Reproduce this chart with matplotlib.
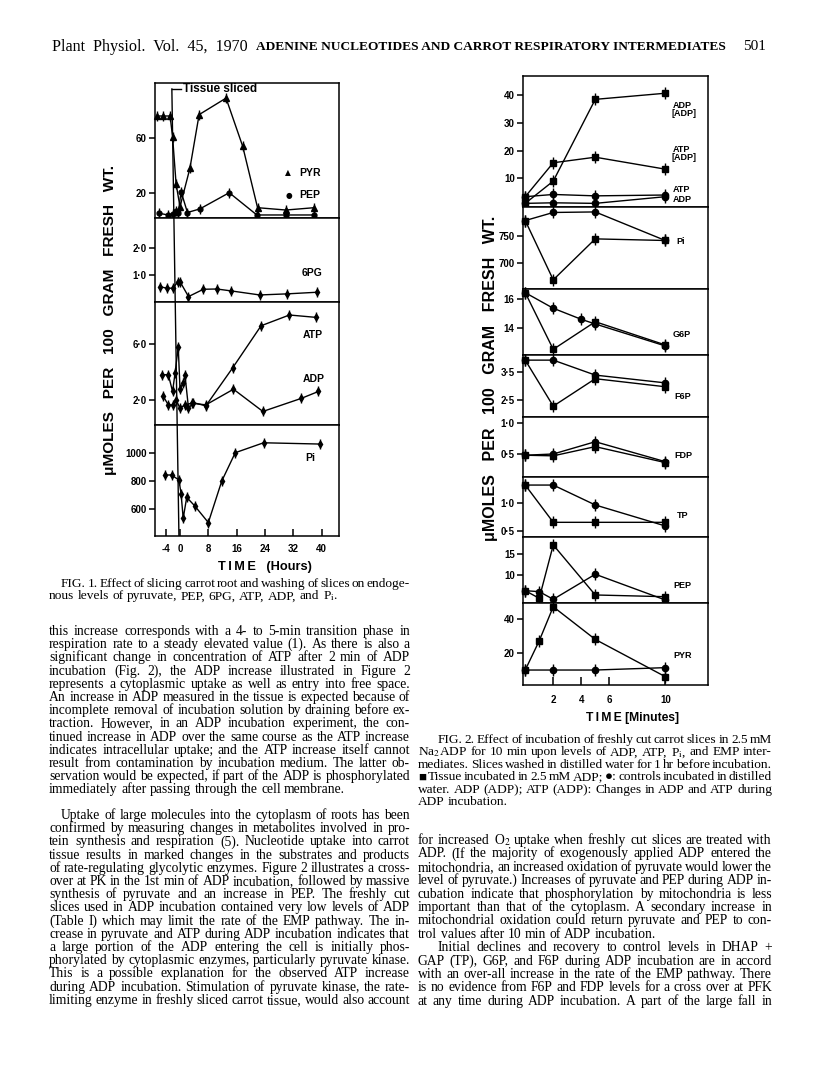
import matplotlib
matplotlib.use("Agg")
import matplotlib.pyplot as plt

W, H = 816, 1076
SANS = ["Liberation Sans", "DejaVu Sans"]
SERIF = ["Liberation Serif", "DejaVu Serif"]
plt.rcParams["font.family"] = SERIF
plt.rcParams["mathtext.fontset"] = "stix"

# ---------------- Fig. 1 data (time in hours) ----------------
pyr_t = [-6.6, -4.9, -2.8, -2.1, -1.1, 0.0, 2.8, 5.4, 13.0, 17.7, 21.9, 29.9, 37.9]
pyr_v = [76, 76, 76, 61, 26.5, 10, 38, 77, 89, 54, 9.3, 7.6, 9.3]
pep_t = [-5.8, -3.4, -2.1, -1.1, -0.5, 0.3, 2.1, 5.6, 13.9, 21.7, 29.9, 37.9]
pep_v = [5.2, 4.0, 4.5, 6.9, 5.2, 21, 5.8, 8.4, 20.2, 4.0, 4.0, 4.0]
pg6_t = [-5.7, -3.8, -2.1, -0.5, 0.0, 2.4, 6.6, 10.4, 14.4, 22.5, 30.2, 38.7]
pg6_v = [0.57, 0.51, 0.51, 0.75, 0.75, 0.20, 0.47, 0.48, 0.41, 0.26, 0.30, 0.36]
atp_t = [-5.2, -3.3, -2.1, -1.4, -0.5, 0.0, 0.9, 1.4, 2.4, 3.8, 7.3, 14.9, 22.9, 30.9, 38.4]
atp_v = [3.8, 3.8, 2.6, 3.9, 5.8, 2.8, 3.2, 3.8, 1.4, 1.8, 1.57, 4.3, 7.3, 8.07, 7.9]
adp_t = [-4.7, -3.3, -2.1, -1.1, 0.0, 1.4, 3.3, 7.3, 15.1, 23.4, 34.2, 39.1]
adp_v = [2.24, 1.64, 1.64, 2.0, 1.4, 1.64, 1.76, 1.64, 2.76, 1.17, 2.1, 2.6]
pi1_t = [-4.1, -2.4, -0.3, 0.3, 0.9, 1.9, 4.2, 8.0, 11.8, 15.6, 23.6, 39.4]
pi1_v = [843, 843, 807, 710, 534, 683, 621, 503, 800, 1002, 1073, 1064]
slice_time = 0.0

# ---------------- Fig. 2 data (time in minutes) ----------------
t4 = [0, 2, 5, 10]
t5 = [0, 1, 2, 5, 10]
adp_inc = [1.0, 9.0, 38.4, 40.6]
atp_inc = [3.4, 15.6, 17.6, 13.3]
atp_ctl = [3.4, 4.2, 3.7, 4.0]
adp_ctl = [1.0, 1.2, 1.0, 3.4]
pi_inc = [778, 668, 744, 741]
pi_ctl = [778, 793, 794, 741]
g6p_t_ctl = [0, 2, 4, 5, 10]
g6p_ctl = [16.47, 15.37, 14.59, 14.26, 12.71]
g6p_inc = [16.47, 12.47, 14.42, 12.78]
f6p_ctl = [3.94, 3.94, 3.40, 3.12]
f6p_inc = [3.94, 2.28, 3.27, 2.98]
fdp_ctl = [0.48, 0.50, 0.70, 0.375]
fdp_inc = [0.48, 0.47, 0.62, 0.36]
tp_ctl = [1.316, 1.316, 0.96, 0.585]
tp_inc = [1.316, 0.65, 0.65, 0.65]
pep_inc = [6.26, 4.45, 17.14, 5.24, 4.83]
pep_ctl = [6.26, 6.03, 4.21, 10.17, 4.05]
pyr_inc = [10.2, 27.4, 47.4, 28.2, 6.3]
pyr_ctl = [10.2, 10.2, 10.2, 11.6]

fig = plt.figure(figsize=(W / 100, H / 100), dpi=100)
fig.patch.set_facecolor("white")
R = fig.canvas.get_renderer()


def box(l, r, t, b):
    return [l / W, 1 - b / H, (r - l) / W, (b - t) / H]


def T(x, y, s, **kw):
    return fig.text(x / W, 1 - y / H, s, **kw)


def fit(x0, x1, y, s, family=SERIF, rot=0, **kw):
    t = T(x0, y, s, fontsize=10, family=family, rotation=rot, **kw)
    bb = t.get_window_extent(R)
    span = bb.height if rot else bb.width
    t.set_fontsize(10 * abs(x1 - x0) / span)
    return t


def word_widths(words, size):
    out = []
    for w in words:
        t = T(0, 0, w, fontsize=size, family=SERIF)
        out.append(t.get_window_extent(R).width)
        t.remove()
    return out


def fit_size(paras, x0, x1, indent=0, base=10.0, space=0.15):
    # largest size where every justified line fits with at least `space` em gaps
    ratios = []
    for lines, last_left in paras:
        for i, line in enumerate(lines):
            if i == len(lines) - 1 and last_left:
                continue
            words = line.split(" ")
            nat = sum(word_widths(words, base)) + (len(words) - 1) * base * 1.389 * space
            ratios.append((x1 - x0 - (indent if i == 0 else 0)) / nat)
    return base * min(ratios)


def para(lines, x0, x1, y0, dy, size, indent=0, last_left=True):
    # y0 is the centre of the first line; words sit on a common baseline
    for i, line in enumerate(lines):
        y = y0 + i * dy + 0.3 * size * 1.389
        xs = x0 + (indent if i == 0 else 0)
        words = line.split(" ")
        texts = [T(0, y, w, fontsize=size, family=SERIF, va="baseline") for w in words]
        ws = [t.get_window_extent(R).width for t in texts]
        if (i == len(lines) - 1 and last_left) or len(words) == 1:
            gap = size * 1.389 * 0.25
        else:
            gap = (x1 - xs - sum(ws)) / (len(words) - 1)
        x = xs
        for t, w in zip(texts, ws):
            t.set_x(x / W)
            x += w + gap


def style(ax, xlim, ylim, yticks, ylabels, bottom=False):
    ax.set_xlim(*xlim)
    ax.set_ylim(*ylim)
    ax.set_yticks(yticks, ylabels)
    for s in ax.spines.values():
        s.set_linewidth(1.1)
    ax.tick_params(axis="y", direction="out", length=4, width=1.1, pad=2, labelsize=7)
    if not bottom:
        ax.tick_params(axis="x", bottom=False, labelbottom=False)
    for lab in ax.get_yticklabels() + ax.get_xticklabels():
        lab.set_family(SANS)
        lab.set_fontweight("bold")


def dots(ax, x, y, marker, ms, bar=7):
    ax.plot(x, y, color="black", lw=1.0, marker=marker, ms=ms, clip_on=False)
    ax.plot(x, y, ls="none", color="black", marker="|", ms=bar, mew=1.0, clip_on=False)


# ---------------- Header ----------------
fit(52, 248, 47, "Plant  Physiol.  Vol.  45,  1970", va="center")
fit(256, 726, 47, "ADENINE NUCLEOTIDES AND CARROT RESPIRATORY INTERMEDIATES",
    va="center", fontweight="bold")
T(766, 47, "501", fontsize=11, family=SERIF, va="center", ha="right")

# ---------------- Fig. 1 ----------------
X1 = (-7.06, 44.9)
L1, R1 = 155, 339
a1 = fig.add_axes(box(L1, R1, 83, 218))
dots(a1, pyr_t, pyr_v, "^", 4)
dots(a1, pep_t, pep_v, "o", 3.5)
style(a1, X1, (1.8, 100), [20, 60], ["20", "60"])

a2 = fig.add_axes(box(L1, R1, 218, 302))
dots(a2, pg6_t, pg6_v, "d", 3.5)
style(a2, X1, (0, 3.1), [1, 2], ["1·0", "2·0"])

a3 = fig.add_axes(box(L1, R1, 302, 425))
dots(a3, atp_t, atp_v, "d", 3.5)
dots(a3, adp_t, adp_v, "d", 3.5)
style(a3, X1, (0.2, 9.0), [2, 6], ["2·0", "6·0"])

a4 = fig.add_axes(box(L1, R1, 425, 536))
dots(a4, pi1_t, pi1_v, "d", 3.5)
style(a4, X1, (407, 1200), [600, 800, 1000], ["600", "800", "1000"], bottom=True)
a4.set_xticks([-4, 0, 8, 16, 24, 32, 40], ["-4", "0", "8", "16", "24", "32", "40"])
a4.tick_params(axis="x", direction="in", length=5, width=1.1, pad=6, labelsize=7)
for lab in a4.get_xticklabels():
    lab.set_family(SANS)
    lab.set_fontweight("bold")

ov = fig.add_axes(box(L1, R1, 83, 536))
ov.set_xlim(*X1)
ov.set_ylim(536, 83)
ov.axis("off")
ov.patch.set_alpha(0)
ov.plot([slice_time - 2.3, slice_time - 0.3], [89, 536], color="black", lw=1.0)
ov.plot([slice_time - 2.3, slice_time + 0.4], [89, 89], color="black", lw=1.0)

lab_kw = dict(family=SANS, fontweight="bold", va="center")
T(183, 89, "Tissue sliced", fontsize=8.5, **lab_kw)
T(288, 173, "▲", fontsize=5.5, ha="center", family=["DejaVu Sans"], va="center")
T(289, 195, "●", fontsize=5.5, ha="center", family=["DejaVu Sans"], va="center")
T(299, 173, "PYR", fontsize=7.5, **lab_kw)
T(299, 195, "PEP", fontsize=7.5, **lab_kw)
T(302, 273, "6PG", fontsize=7.5, **lab_kw)
T(303, 335, "ATP", fontsize=7.5, **lab_kw)
T(303, 379, "ADP", fontsize=7.5, **lab_kw)
T(305, 458, "Pi", fontsize=7.5, **lab_kw)
fit(218, 312, 567, "T\u2009I\u2009M\u2009E   (Hours)", family=SANS, va="center", fontweight="bold")
ylab1 = fit(165, 475, 110, "\u03bcMOLES   PER   100   GRAM   FRESH   WT.", family=SANS, rot=90,
            va="center", ha="center", fontweight="bold")
ylab1.set_position((110 / W, 1 - 320 / H))

# ---------------- Fig. 2 ----------------
X2 = (-0.16, 13.05)
L2, R2 = 523, 708
b1 = fig.add_axes(box(L2, R2, 76, 206.7))
dots(b1, t4, adp_inc, "s", 4.5, 8)
dots(b1, t4, atp_inc, "s", 4.5, 8)
dots(b1, t4, atp_ctl, "o", 4.5, 8)
dots(b1, t4, adp_ctl, "o", 4.5, 8)
style(b1, X2, (-0.2, 46.8), [10, 20, 30, 40], ["10", "20", "30", "40"])

b2 = fig.add_axes(box(L2, R2, 206.7, 289))
dots(b2, t4, pi_ctl, "o", 4.5, 8)
dots(b2, t4, pi_inc, "s", 4.5, 8)
style(b2, X2, (651, 803.7), [700, 750], ["700", "750"])

b3 = fig.add_axes(box(L2, R2, 289, 355))
dots(b3, g6p_t_ctl, g6p_ctl, "o", 4.5, 8)
dots(b3, t4, g6p_inc, "s", 4.5, 8)
style(b3, X2, (12.07, 16.73), [14, 16], ["14", "16"])

b4 = fig.add_axes(box(L2, R2, 355, 416.7))
dots(b4, t4, f6p_ctl, "o", 4.5, 8)
dots(b4, t4, f6p_inc, "s", 4.5, 8)
style(b4, X2, (1.9, 4.125), [2.5, 3.5], ["2·5", "3·5"])

b5 = fig.add_axes(box(L2, R2, 416.7, 477))
dots(b5, t4, fdp_ctl, "o", 4.5, 8)
dots(b5, t4, fdp_inc, "s", 4.5, 8)
style(b5, X2, (0.125, 1.108), [0.5, 1.0], ["0·5", "1·0"])

b6 = fig.add_axes(box(L2, R2, 477, 536.7))
dots(b6, t4, tp_ctl, "o", 4.5, 8)
dots(b6, t4, tp_inc, "s", 4.5, 8)
style(b6, X2, (0.393, 1.46), [0.5, 1.0], ["0·5", "1·0"])

b7 = fig.add_axes(box(L2, R2, 536.7, 603))
dots(b7, t5, pep_inc, "s", 4.5, 8)
dots(b7, t5, pep_ctl, "o", 4.5, 8)
style(b7, X2, (3.33, 19.1), [10, 15], ["10", "15"])

b8 = fig.add_axes(box(L2, R2, 603, 685))
dots(b8, t5, pyr_inc, "s", 4.5, 8)
dots(b8, t4, pyr_ctl, "o", 4.5, 8)
style(b8, X2, (1.4, 49.6), [20, 40], ["20", "40"], bottom=True)
b8.set_xticks([2, 4, 6, 10], ["2", "4", "6", "10"])
b8.tick_params(axis="x", direction="in", length=6, width=1.1, pad=7, labelsize=7)
for lab in b8.get_xticklabels():
    lab.set_family(SANS)
    lab.set_fontweight("bold")

small = dict(family=SANS, fontweight="bold", va="center", fontsize=6.5)
T(673, 105, "ADP", **small)
T(671, 114, "[ADP]", **small)
T(673, 149, "ATP", **small)
T(671, 158, "[ADP]", **small)
T(673, 189, "ATP", **small)
T(673, 200, "ADP", **small)
T(676, 241, "Pi", **small)
T(673, 335, "G6P", **small)
T(674, 397, "F6P", **small)
T(674, 455, "FDP", **small)
T(677, 516, "TP", **small)
T(673, 586, "PEP", **small)
T(673, 655, "PYR", **small)
fit(586, 679, 718, "T\u2009I\u2009M\u2009E [Minutes]", family=SANS, va="center", fontweight="bold")
ylab2 = fit(215, 540, 490, "\u03bcMOLES   PER   100   GRAM   FRESH   WT.", family=SANS, rot=90,
            va="center", ha="center", fontweight="bold")
ylab2.set_position((490 / W, 1 - 378 / H))

# ---------------- Captions and body text ----------------
cap1 = ["FIG. 1. Effect of slicing carrot root and washing of slices on endoge-",
        "nous levels of pyruvate, PEP, 6PG, ATP, ADP, and P$_\\mathrm{i}$."]

body_a = ["this increase corresponds with a 4- to 5-min transition phase in",
          "respiration rate to a steady elevated value (1). As there is also a",
          "significant change in concentration of ATP after 2 min of ADP",
          "incubation (Fig. 2), the ADP increase illustrated in Figure 2",
          "represents a cytoplasmic uptake as well as entry into free space.",
          "An increase in ADP measured in the tissue is expected because of",
          "incomplete removal of incubation solution by draining before ex-",
          "traction. However, in an ADP incubation experiment, the con-",
          "tinued increase in ADP over the same course as the ATP increase",
          "indicates intracellular uptake; and the ATP increase itself cannot",
          "result from contamination by incubation medium. The latter ob-",
          "servation would be expected, if part of the ADP is phosphorylated",
          "immediately after passing through the cell membrane."]

body_b = ["Uptake of large molecules into the cytoplasm of roots has been",
          "confirmed by measuring changes in metabolites involved in pro-",
          "tein synthesis and respiration (5). Nucleotide uptake into carrot",
          "tissue results in marked changes in the substrates and products",
          "of rate-regulating glycolytic enzymes. Figure 2 illustrates a cross-",
          "over at PK in the 1st min of ADP incubation, followed by massive",
          "synthesis of pyruvate and an increase in PEP. The freshly cut",
          "slices used in ADP incubation contained very low levels of ADP",
          "(Table I) which may limit the rate of the EMP pathway. The in-",
          "crease in pyruvate and ATP during ADP incubation indicates that",
          "a large portion of the ADP entering the cell is initially phos-",
          "phorylated by cytoplasmic enzymes, particularly pyruvate kinase.",
          "This is a possible explanation for the observed ATP increase",
          "during ADP incubation. Stimulation of pyruvate kinase, the rate-",
          "limiting enzyme in freshly sliced carrot tissue, would also account"]

cap2 = ["FIG. 2. Effect of incubation of freshly cut carrot slices in 2.5 mM",
        "Na$_2$ADP for 10 min upon levels of ADP, ATP, P$_\\mathrm{i}$, and EMP inter-",
        "mediates. Slices washed in distilled water for 1 hr before incubation.",
        "\u25a0 Tissue incubated in 2.5 mM ADP; \u25cf: controls incubated in distilled",
        "water. ADP (ADP); ATP (ADP): Changes in ADP and ATP during",
        "ADP incubation."]

body_c = ["for increased O$_2$ uptake when freshly cut slices are treated with",
          "ADP. (If the majority of exogenously applied ADP entered the",
          "mitochondria, an increased oxidation of pyruvate would lower the",
          "level of pyruvate.) Increases of pyruvate and PEP during ADP in-",
          "cubation indicate that phosphorylation by mitochondria is less",
          "important than that of the cytoplasm. A secondary increase in",
          "mitochondrial oxidation could return pyruvate and PEP to con-",
          "trol values after 10 min of ADP incubation."]

body_d = ["Initial declines and recovery to control levels in DHAP +",
          "GAP (TP), G6P, and F6P during ADP incubation are in accord",
          "with an over-all increase in the rate of the EMP pathway. There",
          "is no evidence from F6P and FDP levels for a cross over at PFK",
          "at any time during ADP incubation. A part of the large fall in"]

body_size = round(min(fit_size([(body_a, True), (body_b, False)], 49, 410, indent=12),
                      fit_size([(body_c, True), (body_d, False)], 418, 772, indent=20)), 1)
cap_size = round(min(fit_size([(cap1, True)], 49, 410, indent=12),
                     fit_size([(cap2, True)], 418, 772, indent=20)), 1)

para(cap1, 49, 410, 583, 12.4, cap_size, indent=12)
para(body_a, 49, 410, 631, 13.2, body_size)
para(body_b, 49, 410, 815, 13.2, body_size, indent=12, last_left=False)
para(cap2, 418, 772, 739, 12.45, cap_size, indent=20)
para(body_c, 418, 772, 840, 13.4, body_size)
para(body_d, 418, 772, 840 + 8 * 13.4, 13.4, body_size, indent=20, last_left=False)

fig.savefig("out.png", dpi=100, facecolor="white")
